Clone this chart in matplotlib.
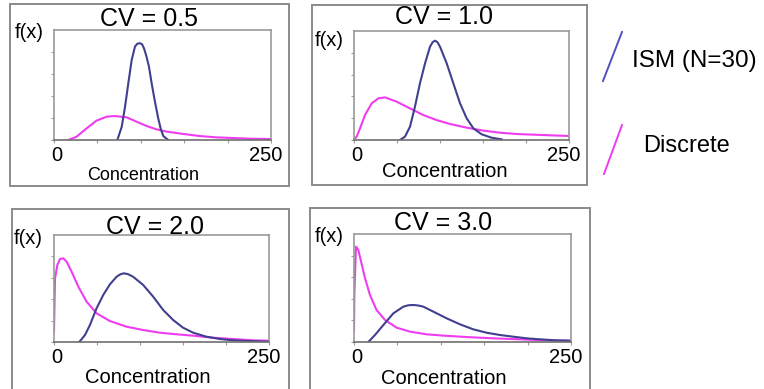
import matplotlib
matplotlib.use("Agg")
import matplotlib.pyplot as plt
from matplotlib.patches import Rectangle
from matplotlib.lines import Line2D
from matplotlib.transforms import ScaledTranslation

plt.rcParams['font.family'] = ['Liberation Sans', 'DejaVu Sans']

W, H = 764, 389

cv_titles = ["CV = 0.5", "CV = 1.0", "CV = 2.0", "CV = 3.0"]
xtick_labels = ["0", "", "", "", "", "250"]
xtick_pos = [0, 50, 100, 150, 200, 250]
legend_labels = ["ISM (N=30)", "Discrete"]

# values (y scaled so the top of each plot box = 1)
ism_x_05 = [73, 78, 81.8, 85.6, 89.5, 93.3, 96, 99, 101.5, 103.7, 106.5, 109.4, 112, 114.4, 117,
            120, 123, 126, 131.7]
ism_y_05 = [0, 0.12, 0.30, 0.515, 0.727, 0.85, 0.875, 0.88, 0.87, 0.833, 0.76, 0.667, 0.54, 0.43,
            0.32, 0.2, 0.1, 0.035, 0]
dis_x_05 = [16.5, 26, 37.6, 49, 60.7, 70, 83.7, 95, 106.8, 118, 130, 149, 168, 187, 206.6, 225.8, 249]
dis_y_05 = [0, 0.03, 0.106, 0.176, 0.212, 0.218, 0.206, 0.167, 0.127, 0.097, 0.076, 0.055, 0.036,
            0.024, 0.018, 0.012, 0.009]

ism_x_10 = [53.5, 59.3, 65.1, 70.9, 76.7, 82.6, 88.4, 91.5, 94.2, 97, 100, 107.8, 115.5, 123.3, 131,
            138.8, 148.5, 160, 171.7]
ism_y_10 = [0, 0.031, 0.122, 0.306, 0.52, 0.703, 0.856, 0.898, 0.911, 0.898, 0.856, 0.703, 0.52,
            0.336, 0.199, 0.107, 0.052, 0.021, 0.006]
dis_x_10 = [0.4, 3.1, 7, 12.8, 20.5, 28.3, 36, 49.6, 65, 80.6, 96, 111.6, 131, 150.4, 169.8, 189,
            208.5, 228, 250]
dis_y_10 = [0.006, 0.031, 0.107, 0.229, 0.336, 0.382, 0.391, 0.352, 0.29, 0.229, 0.183, 0.147,
            0.113, 0.086, 0.067, 0.055, 0.049, 0.043, 0.037]

ism_x_20 = [29.4, 36, 41.8, 49.5, 57.3, 65, 72.8, 77, 81.3, 86, 92, 103.7, 115.3, 127, 138.5, 150,
            161.8, 177, 192.7, 208, 227.6, 250]
ism_y_20 = [0, 0.065, 0.159, 0.315, 0.44, 0.539, 0.61, 0.632, 0.642, 0.634, 0.61, 0.533, 0.424,
            0.299, 0.206, 0.134, 0.087, 0.05, 0.028, 0.016, 0.009, 0.003]
dis_x_20 = [0, 1.2, 3.9, 7, 10.8, 14.7, 20.5, 28.3, 37.9, 49.5, 65, 84.4, 103.7, 123, 142.4,
            161.8, 185, 208, 231, 250]
dis_y_20 = [0.097, 0.595, 0.72, 0.776, 0.782, 0.75, 0.657, 0.517, 0.377, 0.268, 0.196, 0.143,
            0.112, 0.087, 0.072, 0.059, 0.04, 0.028, 0.016, 0.012]

ism_x_30 = [16.5, 24.2, 33.8, 45.3, 56.8, 62.5, 68.4, 74, 79.9, 91.4, 106.8, 122, 137.5, 152.8,
            168, 183.6, 199, 214, 233.5, 250]
ism_y_30 = [0, 0.065, 0.157, 0.265, 0.327, 0.34, 0.343, 0.338, 0.327, 0.281, 0.219, 0.164, 0.117,
            0.086, 0.065, 0.049, 0.034, 0.025, 0.015, 0.012]
dis_x_30 = [0, 0.4, 2.3, 5, 7.7, 12.7, 18.4, 26, 35.7, 49, 64.5, 83.7, 103, 129.8, 160.5, 191,
            222, 250]
dis_y_30 = [0.1, 0.435, 0.883, 0.852, 0.759, 0.59, 0.435, 0.296, 0.204, 0.133, 0.096, 0.071,
            0.059, 0.046, 0.034, 0.025, 0.015, 0.012]

ism_xs = [ism_x_05, ism_x_10, ism_x_20, ism_x_30]
ism_ys = [ism_y_05, ism_y_10, ism_y_20, ism_y_30]
dis_xs = [dis_x_05, dis_x_10, dis_x_20, dis_x_30]
dis_ys = [dis_y_05, dis_y_10, dis_y_20, dis_y_30]

ism_col = '#40408f'
dis_col = '#f03cf0'
grey = '#9a9a9a'


def fx(px):
    return px / W


def fy(py):
    return 1 - py / H


# pixel layout of each panel: axes box, outer frame, title/f(x)/xlabel centres, xlabel size
axes_px = [(54, 30, 271, 140), (354, 31, 569, 140), (54, 235, 269, 342), (354, 234, 571, 342)]
frame_px = [(10, 4, 289, 186), (312, 5, 587, 185), (12, 209, 289, 400), (310, 208, 590, 400)]
title_px = [(149, 18.5), (444, 17.5), (154.5, 226.5), (443, 223.5)]
fx_px = [(29, 32), (329, 40), (28, 238), (329, 237)]
xlab_px = [(143.5, 176), (445, 172), (147.5, 377.5), (443.5, 379)]
xlab_size = [13, 14.5, 14.5, 14.5]

fig = plt.figure(figsize=(W / 100, H / 100), dpi=100)

for i in range(4):
    l, t, r, b = frame_px[i]
    fig.patches.append(Rectangle((fx(l), fy(b)), fx(r) - fx(l), fy(t) - fy(b),
                                 transform=fig.transFigure, fill=False,
                                 edgecolor='#8a8a8a', linewidth=1.4, clip_on=False))

    l, t, r, b = axes_px[i]
    ax = fig.add_axes([fx(l), fy(b), fx(r) - fx(l), fy(t) - fy(b)])
    ax.plot(dis_xs[i], dis_ys[i], color=dis_col, lw=1.5)
    ax.plot(ism_xs[i], ism_ys[i], color=ism_col, lw=1.5)
    ax.set_xlim(0, 250)
    ax.set_ylim(0, 1)
    ax.set_xticks(xtick_pos)
    ax.set_xticklabels(xtick_labels, fontsize=14.5)
    ax.set_yticks([0, 0.2, 0.4, 0.6, 0.8])
    ax.set_yticklabels([])
    ax.tick_params(length=2.5, width=0.8, color=grey, pad=2)
    labs = ax.get_xticklabels()
    labs[0].set_transform(labs[0].get_transform() + ScaledTranslation(2 / 72, 0, fig.dpi_scale_trans))
    labs[-1].set_transform(labs[-1].get_transform() + ScaledTranslation(-4 / 72, 0, fig.dpi_scale_trans))
    for s in ax.spines.values():
        s.set_color(grey)
        s.set_linewidth(1.2)
    ax.spines['bottom'].set_color('#707070')

    fig.text(fx(title_px[i][0]), fy(title_px[i][1]), cv_titles[i], fontsize=18,
             ha='center', va='center')
    fig.text(fx(fx_px[i][0]), fy(fx_px[i][1]), "f(x)", fontsize=14.5,
             ha='center', va='center')
    fig.text(fx(xlab_px[i][0]), fy(xlab_px[i][1]), "Concentration", fontsize=xlab_size[i],
             ha='center', va='center')

# legend on the right
fig.lines.append(Line2D([fx(603), fx(622)], [fy(81), fy(32)], transform=fig.transFigure,
                        color='#5050c0', lw=1.4))
fig.lines.append(Line2D([fx(604), fx(622)], [fy(174), fy(125)], transform=fig.transFigure,
                        color=dis_col, lw=1.4))
fig.text(fx(632), fy(61), legend_labels[0], fontsize=17.5, ha='left', va='center')
fig.text(fx(643), fy(146), legend_labels[1], fontsize=17, ha='left', va='center')

fig.savefig('out.png', dpi=100)
